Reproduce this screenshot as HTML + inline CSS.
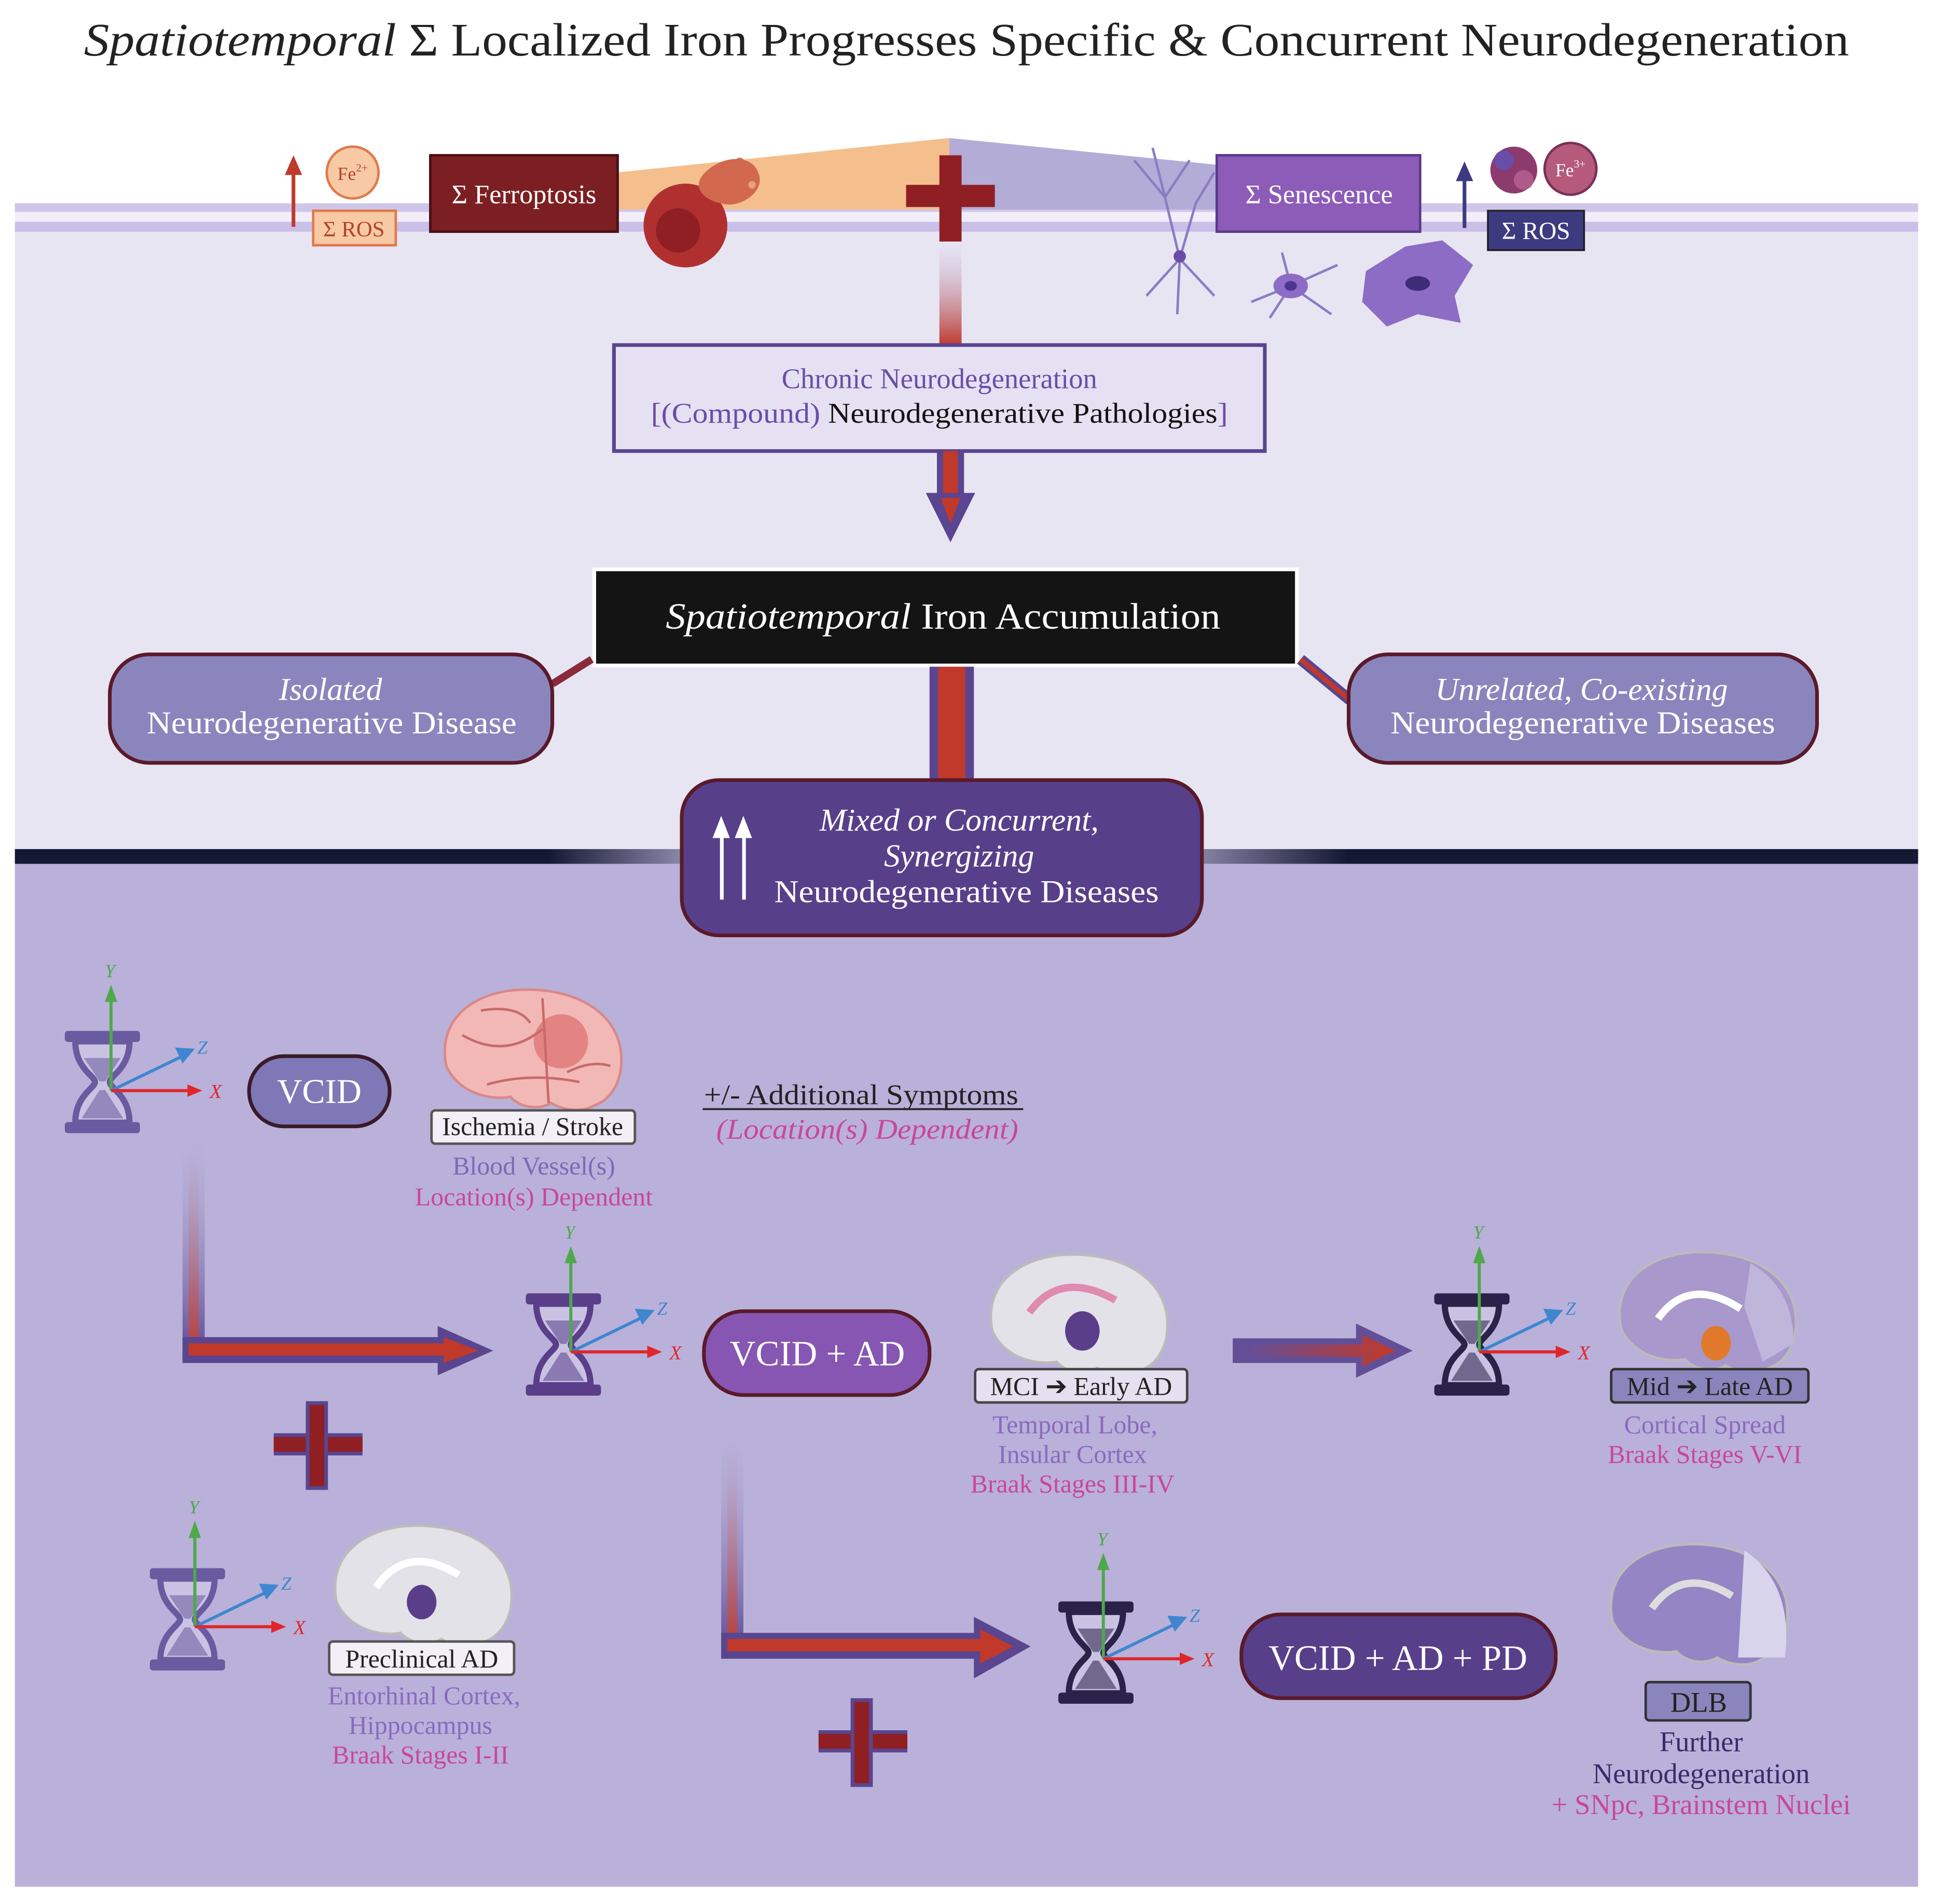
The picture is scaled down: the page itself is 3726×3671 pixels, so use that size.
<!DOCTYPE html>
<html><head><meta charset="utf-8"><style>
html,body{margin:0;padding:0;background:#fff}
svg{display:block}
text{font-family:"Liberation Serif",serif}
</style></head><body>
<svg width="3726" height="3671" viewBox="0 0 1568 1545" xmlns="http://www.w3.org/2000/svg">
<defs>
<linearGradient id="vfade" x1="0" y1="0" x2="0" y2="1"><stop offset="0" stop-color="#b9b1d9" stop-opacity="0"/><stop offset="1" stop-color="#c0392b"/></linearGradient>
<linearGradient id="vfadeP" x1="0" y1="0" x2="0" y2="1"><stop offset="0" stop-color="#b9b1d9" stop-opacity="0"/><stop offset="1" stop-color="#5a4590"/></linearGradient>
<linearGradient id="hfade" x1="0" y1="0" x2="1" y2="0"><stop offset="0" stop-color="#c0392b" stop-opacity="0"/><stop offset="1" stop-color="#c0392b"/></linearGradient>
<linearGradient id="darkline" x1="0" y1="0" x2="1" y2="0"><stop offset="0" stop-color="#141833"/><stop offset="0.28" stop-color="#141833"/><stop offset="0.35" stop-color="#8a86a8"/><stop offset="0.62" stop-color="#8a86a8"/><stop offset="0.7" stop-color="#141833"/><stop offset="1" stop-color="#141833"/></linearGradient>
<g id="hg">
<rect x="-30" y="0" width="60" height="8" rx="2"/>
<rect x="-30" y="74" width="60" height="8" rx="2"/>
<path d="M-22 8 C-22 30 -6 36 -6 41 C-6 46 -22 52 -22 74 L22 74 C22 52 6 46 6 41 C6 36 22 30 22 8 Z" fill="#c9c2e2" stroke-width="5"/>
<path d="M-14 22 L14 22 L2 40 L-2 40 Z M-16 70 L16 70 L2 48 L-2 48 Z" opacity="0.55"/>
</g>
<g id="ax">
<line x1="0" y1="0" x2="0" y2="-74" stroke="#4fa84a" stroke-width="2.5"/><path d="M-5 -72 L0 -86 L5 -72Z" fill="#4fa84a"/>
<line x1="0" y1="0" x2="58" y2="-28" stroke="#3f86cf" stroke-width="2.5"/><path d="M52 -35 L68 -34 L58 -22Z" fill="#3f86cf"/>
<line x1="0" y1="0" x2="64" y2="0" stroke="#e0262a" stroke-width="2.5"/><path d="M62 -5 L74 0 L62 5Z" fill="#e0262a"/>
<text x="-5" y="-92" font-size="15" font-style="italic" fill="#4fa84a">Y</text>
<text x="70" y="-30" font-size="15" font-style="italic" fill="#3f86cf">Z</text>
<text x="80" y="6" font-size="16" font-style="italic" fill="#e0262a">X</text>
</g>
<path id="brain" d="M-70 10 C-78 -30 -45 -52 -5 -52 C40 -52 72 -30 72 5 C72 25 62 38 50 42 C40 48 25 46 15 40 C5 46 -10 44 -18 35 C-35 38 -60 32 -70 10Z"/>
</defs>

<rect width="1568" height="1545" fill="#fff"/>
<text x="68" y="45" font-size="38" fill="#222" textLength="1432" lengthAdjust="spacingAndGlyphs"><tspan font-style="italic">Spatiotemporal</tspan>  Σ Localized Iron Progresses Specific &amp; Concurrent Neurodegeneration</text>

<rect x="12" y="165" width="1544" height="527" fill="#e8e5f3"/>
<rect x="12" y="165" width="1544" height="7" fill="#cfc6ea"/>
<rect x="12" y="172" width="1544" height="8" fill="#f1eefa"/>
<rect x="12" y="180" width="1544" height="8" fill="#c9bfe8"/>
<path d="M500 140 L770 112 L770 170 L500 170Z" fill="#f4bf8c"/>
<path d="M770 112 L1000 135 L1000 170 L770 170Z" fill="#b3acd6"/>
<rect x="12" y="689" width="1544" height="12" fill="url(#darkline)"/>
<rect x="12" y="701" width="1544" height="830" fill="#b9b1d9"/>

<path d="M238 184 L238 140" stroke="#c0392b" stroke-width="3"/><path d="M231 142 L238 126 L245 142Z" fill="#c0392b"/>
<circle cx="286" cy="140" r="21" fill="#f7c9a5" stroke="#e07a4a" stroke-width="2"/>
<text x="286" y="146" font-size="15" text-anchor="middle" fill="#b2432c">Fe<tspan font-size="9" dy="-7">2+</tspan></text>
<rect x="254" y="171" width="67" height="28" fill="#f7c9a5" stroke="#e07a4a" stroke-width="2"/>
<text x="287" y="192" font-size="18" text-anchor="middle" fill="#b2432c">Σ ROS</text>
<rect x="349" y="126" width="152" height="62" fill="#7c1f22" stroke="#4a1015" stroke-width="2"/>
<text x="425" y="165" font-size="22" text-anchor="middle" fill="#fff">Σ Ferroptosis</text>
<circle cx="556" cy="183" r="34" fill="#b03030"/><circle cx="550" cy="187" r="18" fill="#8f1f22"/>
<path d="M570 142 C585 125 610 125 615 140 C622 155 600 170 585 165 C570 162 562 152 570 142Z" fill="#d2694f"/>
<circle cx="600" cy="132" r="4" fill="#d2694f"/><circle cx="610" cy="150" r="3" fill="#e8a27a"/>
<rect x="735" y="150" width="72" height="18" fill="#8f1f22"/>
<rect x="762" y="126" width="18" height="70" fill="#8f1f22"/>
<rect x="762" y="196" width="18" height="84" fill="url(#vfade)"/>
<g stroke="#8a7cc4" stroke-width="2" fill="none">
<path d="M955 255 L957 210 M957 210 L930 240 M957 210 L985 240 M957 210 L945 160 L920 130 M945 160 L965 130 M957 210 L970 165 L985 140 M945 160 L935 120"/>
<path d="M1047 232 L1015 245 M1047 232 L1085 215 M1047 232 L1080 255 M1047 232 L1040 205 M1047 232 L1030 258"/>
</g>
<circle cx="957" cy="208" r="5" fill="#6a4da8"/>
<ellipse cx="1047" cy="232" rx="14" ry="10" fill="#8d6cc6"/><ellipse cx="1047" cy="232" rx="5" ry="4" fill="#4b3590"/>
<path d="M1108 220 L1140 200 L1170 195 L1195 215 L1180 240 L1185 262 L1150 255 L1125 265 L1105 245Z" fill="#8d6cc6"/>
<ellipse cx="1150" cy="230" rx="10" ry="6" fill="#3e2c78"/>
<rect x="987" y="126" width="165" height="62" fill="#8c5cb8" stroke="#5a3a8a" stroke-width="2"/>
<text x="1070" y="165" font-size="22" text-anchor="middle" fill="#fff">Σ Senescence</text>
<path d="M1188 185 L1188 145" stroke="#3e3a80" stroke-width="3"/><path d="M1181 147 L1188 131 L1195 147Z" fill="#3e3a80"/>
<circle cx="1228" cy="138" r="19" fill="#8d3a6e"/><circle cx="1220" cy="130" r="8" fill="#6a4da8"/><circle cx="1236" cy="146" r="8" fill="#b05a8a"/>
<circle cx="1274" cy="137" r="21" fill="#b55a7a" stroke="#7a3058" stroke-width="2"/>
<text x="1274" y="143" font-size="15" text-anchor="middle" fill="#fff">Fe<tspan font-size="9" dy="-7">3+</tspan></text>
<rect x="1207" y="171" width="78" height="32" fill="#3e3a80" stroke="#222" stroke-width="1.5"/>
<text x="1246" y="194" font-size="20" text-anchor="middle" fill="#fff">Σ ROS</text>

<rect x="498" y="280" width="528" height="86" fill="#e5e1f2" stroke="#5a4590" stroke-width="3"/>
<text x="762" y="315" font-size="23" text-anchor="middle" fill="#6a4da8">Chronic Neurodegeneration</text>
<text x="528" y="343" font-size="23" fill="#6a4da8" textLength="468" lengthAdjust="spacingAndGlyphs">[(Compound) <tspan fill="#111">Neurodegenerative Pathologies</tspan>]</text>
<rect x="760" y="366" width="22" height="40" fill="#5a4590"/><rect x="765" y="366" width="12" height="40" fill="#c0392b"/>
<path d="M751 400 L791 400 L771 440Z" fill="#5a4590"/><path d="M763 404 L779 404 L771 425Z" fill="#c0392b"/>

<rect x="482" y="462" width="570" height="78" fill="#141414" stroke="#fff" stroke-width="3"/>
<text x="540" y="510" font-size="30" fill="#fff" textLength="450" lengthAdjust="spacingAndGlyphs"><tspan font-style="italic">Spatiotemporal</tspan>  Iron Accumulation</text>
<path d="M448 555 L480 535" stroke="#8a2a3a" stroke-width="6"/>
<path d="M1055 535 L1095 568" stroke="#5a4590" stroke-width="9"/><path d="M1055 535 L1095 568" stroke="#c0392b" stroke-width="4"/>
<rect x="754" y="541" width="36" height="93" fill="#5a4590"/><rect x="761" y="541" width="22" height="93" fill="#c0392b"/>

<rect x="89" y="531" width="359" height="88" rx="32" fill="#8b85bd" stroke="#5a1a2a" stroke-width="3"/>
<text x="268" y="568" font-size="26" font-style="italic" text-anchor="middle" fill="#fff">Isolated</text>
<text x="119" y="595" font-size="26" fill="#fff" textLength="300" lengthAdjust="spacingAndGlyphs">Neurodegenerative Disease</text>
<rect x="1094" y="531" width="380" height="88" rx="32" fill="#8b85bd" stroke="#5a1a2a" stroke-width="3"/>
<text x="1283" y="568" font-size="26" font-style="italic" text-anchor="middle" fill="#fff">Unrelated, Co-existing</text>
<text x="1128" y="595" font-size="26" fill="#fff" textLength="312" lengthAdjust="spacingAndGlyphs">Neurodegenerative Diseases</text>

<rect x="553" y="633" width="422" height="126" rx="30" fill="#583f8a" stroke="#5a1a2a" stroke-width="3"/>
<text x="778" y="674" font-size="26" font-style="italic" text-anchor="middle" fill="#fff">Mixed or Concurrent,</text>
<text x="778" y="703" font-size="26" font-style="italic" text-anchor="middle" fill="#fff">Synergizing</text>
<text x="628" y="732" font-size="26" fill="#fff" textLength="312" lengthAdjust="spacingAndGlyphs">Neurodegenerative Diseases</text>
<g fill="#fff"><rect x="584" y="675" width="3" height="55"/><path d="M578 680 L585 662 L592 680Z"/><rect x="602" y="675" width="3" height="55"/><path d="M596 680 L603 662 L610 680Z"/></g>

<rect x="148" y="915" width="18" height="190" fill="url(#vfadeP)"/>
<rect x="153" y="915" width="8" height="190" fill="url(#vfade)"/>
<path d="M148 1085 L148 1106 L355 1106 L355 1116 L400 1096 L355 1076 L355 1085 L166 1085" fill="#5a4590"/>
<path d="M153 1090 L153 1100 L360 1100 L360 1106 L388 1096 L360 1085 L360 1090Z" fill="#c0392b"/>
<path d="M1000 1086 L1100 1086 L1100 1074 L1146 1096 L1100 1118 L1100 1106 L1000 1106Z" fill="#5a4590" opacity="0.9"/>
<path d="M1010 1091 L1105 1091 L1105 1083 L1132 1096 L1105 1109 L1105 1101 L1010 1101Z" fill="url(#hfade)"/>
<rect x="585" y="1155" width="18" height="190" fill="url(#vfadeP)"/>
<rect x="590" y="1155" width="8" height="190" fill="url(#vfade)"/>
<path d="M585 1325 L585 1346 L790 1346 L790 1362 L836 1336 L790 1312 L790 1325 L603 1325" fill="#5a4590"/>
<path d="M590 1330 L590 1340 L795 1340 L795 1350 L822 1336 L795 1322 L795 1330Z" fill="#c0392b"/>

<g><rect x="222" y="1163" width="72" height="18" fill="#5a4590"/><rect x="222" y="1166" width="72" height="12" fill="#8f1f22"/><rect x="248" y="1137" width="18" height="72" fill="#5a4590"/><rect x="251" y="1140" width="12" height="66" fill="#8f1f22"/></g>
<g><rect x="664" y="1404" width="72" height="18" fill="#5a4590"/><rect x="664" y="1407" width="72" height="12" fill="#8f1f22"/><rect x="690" y="1378" width="18" height="72" fill="#5a4590"/><rect x="693" y="1381" width="12" height="66" fill="#8f1f22"/></g>

<use href="#hg" x="83" y="837" fill="#6a5ba0" stroke="#6a5ba0"/>
<use href="#ax" x="90" y="885"/>
<use href="#hg" x="457" y="1050" fill="#5a3e8a" stroke="#5a3e8a"/>
<use href="#ax" x="463" y="1097"/>
<use href="#hg" x="1194" y="1050" fill="#2a2248" stroke="#2a2248"/>
<use href="#ax" x="1200" y="1097"/>
<use href="#hg" x="152" y="1273" fill="#6a5ba0" stroke="#6a5ba0"/>
<use href="#ax" x="158" y="1320"/>
<use href="#hg" x="889" y="1300" fill="#2a2248" stroke="#2a2248"/>
<use href="#ax" x="895" y="1346"/>

<rect x="202" y="857" width="114" height="57" rx="28" fill="#7e78b6" stroke="#3a1a2a" stroke-width="3"/>
<text x="259" y="895" font-size="28" text-anchor="middle" fill="#fff">VCID</text>
<rect x="571" y="1064" width="183" height="68" rx="32" fill="#8656b2" stroke="#5a1a2a" stroke-width="3"/>
<text x="663" y="1108" font-size="29" text-anchor="middle" fill="#fff">VCID + AD</text>
<rect x="1007" y="1310" width="255" height="68" rx="32" fill="#583f8a" stroke="#5a1a2a" stroke-width="3"/>
<text x="1134" y="1355" font-size="29" text-anchor="middle" fill="#fff">VCID + AD + PD</text>

<!-- brains -->
<use href="#brain" x="432" y="855" fill="#f2b8b6" stroke="#d88888" stroke-width="2"/>
<circle cx="455" cy="845" r="22" fill="#d4504f" opacity="0.5"/>
<path d="M375 840 Q410 860 440 835 M395 880 Q430 870 470 878 M440 810 L445 895 M390 820 Q420 815 430 830 M460 870 Q480 860 495 865" stroke="#c86a6a" stroke-width="2" fill="none"/>
<use href="#brain" x="875" y="1070" fill="#e3e2e8" stroke="#bbb" stroke-width="2"/>
<path d="M835 1065 Q860 1030 905 1055" stroke="#e08ab0" stroke-width="6" fill="none"/>
<ellipse cx="878" cy="1080" rx="14" ry="16" fill="#5a3e8a"/>
<use href="#brain" x="1385" y="1068" fill="#a898cc" stroke="#bbb" stroke-width="2"/>
<path d="M1420 1025 Q1455 1045 1455 1090 L1430 1105 L1415 1060Z" fill="#c0b6dc"/>
<path d="M1345 1070 Q1370 1035 1412 1062" stroke="#fff" stroke-width="6" fill="none"/>
<ellipse cx="1392" cy="1090" rx="12" ry="14" fill="#e07a2a"/>
<use href="#brain" x="343" y="1290" fill="#e3e2e8" stroke="#bbb" stroke-width="2"/>
<path d="M305 1288 Q330 1252 372 1278" stroke="#fff" stroke-width="6" fill="none"/>
<ellipse cx="342" cy="1300" rx="12" ry="14" fill="#5a3e8a"/>
<use href="#brain" x="1378" y="1305" fill="#9585c4" stroke="#bbb" stroke-width="2"/>
<path d="M1415 1258 Q1455 1285 1448 1345 L1410 1345Z" fill="#d8d4ec"/>
<path d="M1340 1305 Q1365 1270 1405 1295" stroke="#ddd" stroke-width="6" fill="none"/>

<rect x="350" y="901" width="165" height="27" rx="3" fill="#f2f0f6" stroke="#555" stroke-width="2"/>
<text x="432" y="921" font-size="21" text-anchor="middle" fill="#222">Ischemia / Stroke</text>
<text x="433" y="953" font-size="21" text-anchor="middle" fill="#7a6ab8">Blood Vessel(s)</text>
<text x="433" y="978" font-size="21" text-anchor="middle" fill="#c9479b">Location(s) Dependent</text>
<text x="571" y="896" font-size="23" fill="#222" textLength="255" lengthAdjust="spacingAndGlyphs">+/- Additional Symptoms</text>
<line x1="570" y1="900" x2="830" y2="900" stroke="#222" stroke-width="1.5"/>
<text x="581" y="924" font-size="23" font-style="italic" fill="#c9479b" textLength="245" lengthAdjust="spacingAndGlyphs">(Location(s) Dependent)</text>

<rect x="791" y="1111" width="172" height="27" rx="3" fill="#e4e0f0" stroke="#444" stroke-width="2"/>
<text x="877" y="1132" font-size="21" text-anchor="middle" fill="#222">MCI ➔ Early AD</text>
<text x="872" y="1163" font-size="21" text-anchor="middle" fill="#8a6ac0">Temporal Lobe,</text>
<text x="870" y="1187" font-size="21" text-anchor="middle" fill="#8a6ac0">Insular Cortex</text>
<text x="870" y="1211" font-size="21" text-anchor="middle" fill="#c9479b">Braak Stages III-IV</text>

<rect x="1307" y="1111" width="160" height="27" rx="3" fill="#8b85bd" stroke="#333" stroke-width="2"/>
<text x="1387" y="1132" font-size="21" text-anchor="middle" fill="#222">Mid ➔ Late AD</text>
<text x="1383" y="1163" font-size="21" text-anchor="middle" fill="#8a6ac0">Cortical Spread</text>
<text x="1383" y="1187" font-size="21" text-anchor="middle" fill="#c9479b">Braak Stages V-VI</text>

<rect x="267" y="1332" width="150" height="27" rx="3" fill="#f2f0f6" stroke="#555" stroke-width="2"/>
<text x="342" y="1353" font-size="21" text-anchor="middle" fill="#222">Preclinical AD</text>
<text x="344" y="1383" font-size="21" text-anchor="middle" fill="#8a6ac0">Entorhinal Cortex,</text>
<text x="341" y="1407" font-size="21" text-anchor="middle" fill="#8a6ac0">Hippocampus</text>
<text x="341" y="1431" font-size="21" text-anchor="middle" fill="#c9479b">Braak Stages I-II</text>

<rect x="1335" y="1365" width="85" height="31" rx="3" fill="#8b85bd" stroke="#333" stroke-width="2"/>
<text x="1378" y="1389" font-size="23" text-anchor="middle" fill="#222">DLB</text>
<text x="1380" y="1421" font-size="23" text-anchor="middle" fill="#3a2a6a">Further</text>
<text x="1380" y="1447" font-size="23" text-anchor="middle" fill="#3a2a6a">Neurodegeneration</text>
<text x="1380" y="1472" font-size="23" text-anchor="middle" fill="#c9479b">+ SNpc, Brainstem Nuclei</text>
</svg>
</body></html>
